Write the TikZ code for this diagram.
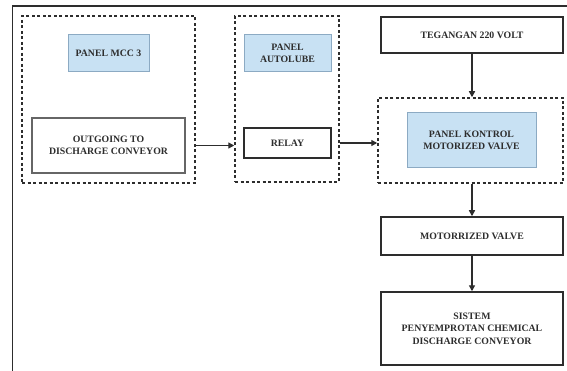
\documentclass[tikz,border=0pt]{standalone}
\usepackage{fontspec}
\setmainfont{Liberation Serif}
\usetikzlibrary{arrows.meta}
\definecolor{lb}{RGB}{200,225,243}
\definecolor{lbd}{RGB}{140,170,195}
\definecolor{ln}{RGB}{45,45,45}
\begin{document}
\begin{tikzpicture}[x=1pt,y=-1pt,
  txt/.style={font=\bfseries\fontsize{9.8}{12.5}\selectfont, align=center, inner sep=0pt, text=ln},
  solidbox/.style={txt, draw=ln, line width=1.5pt, fill=white},
  bluebox/.style={txt, draw=lbd, line width=1pt, fill=lb},
  dashbox/.style={draw=ln, line width=1.5pt, dash pattern=on 3pt off 2.5pt},
  arr/.style={draw=ln, line width=1.4pt, -{Triangle[length=6pt,width=6pt]}}]
\useasboundingbox (0,0) rectangle (567,371);
\fill[white] (0,0) rectangle (567,371);
\coordinate (fa) at (12.5,371);
\coordinate (fb) at (12.5,6);
\coordinate (fc) at (567,6);
\draw[ln, line width=1.2pt] (fa) -- (fb) -- (fc);
% dashed groups
\node[dashbox, minimum width=173pt, minimum height=167pt, inner sep=0pt] (d1) at (108.5,99.5) {};
\node[dashbox, minimum width=104pt, minimum height=166pt, inner sep=0pt] (d2) at (287,99) {};
\node[dashbox, minimum width=185pt, minimum height=85pt, inner sep=0pt] (d3) at (470.5,140.5) {};
% boxes
\node[bluebox, minimum width=81pt, minimum height=37pt] (mcc) at (108.5,53.5) {PANEL MCC 3};
\node[solidbox, draw=gray!80!black, line width=1.1pt, minimum width=153pt, minimum height=55pt] (out) at (108.5,145.5) {OUTGOING TO\\DISCHARGE CONVEYOR};
\node[bluebox, minimum width=87pt, minimum height=37pt] (auto) at (287.5,53.5) {PANEL\\AUTOLUBE};
\node[solidbox, minimum width=87pt, minimum height=30pt] (relay) at (287.5,143) {RELAY};
\node[solidbox, minimum width=182pt, minimum height=36pt] (teg) at (472,35) {TEGANGAN 220 VOLT};
\node[bluebox, minimum width=129pt, minimum height=55pt] (pk) at (471.5,140.5) {PANEL KONTROL\\MOTORIZED VALVE};
\node[solidbox, minimum width=182pt, minimum height=38pt] (mv) at (472,236) {MOTORRIZED VALVE};
\node[solidbox, minimum width=182pt, minimum height=73pt] (sis) at (472,328.5) {SISTEM\\PENYEMPROTAN CHEMICAL\\DISCHARGE CONVEYOR};
% connectors
\draw[arr] (out.east -| d1.east) -- (out.east -| d2.west);
\draw[arr] (relay.east -| d2.east) -- (relay.east -| d3.west);
\draw[arr] (teg.south) -- (teg.south |- d3.north);
\draw[arr] (mv.north |- d3.south) -- (mv.north);
\draw[arr] (mv.south) -- (sis.north);
\end{tikzpicture}
\end{document}
